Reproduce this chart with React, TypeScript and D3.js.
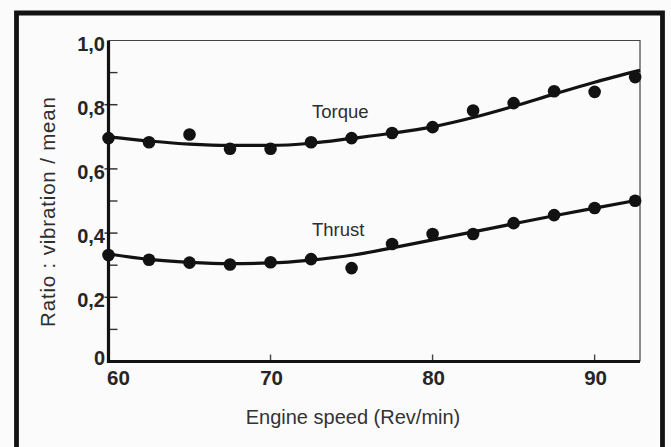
import React from "react";
import * as d3 from "d3";

// Measured points (engine speed in rev/min, ratio vibration / mean)
const speeds = [60, 62.5, 65, 67.5, 70, 72.5, 75, 77.5, 80, 82.5, 85, 87.5, 90, 92.5];
const torquePoints = [0.696, 0.683, 0.707, 0.663, 0.663, 0.683, 0.696, 0.712, 0.730, 0.782, 0.805, 0.842, 0.840, 0.886];
const thrustPoints = [0.332, 0.317, 0.308, 0.302, 0.309, 0.319, 0.291, 0.366, 0.397, 0.397, 0.431, 0.456, 0.478, 0.501];

// Smoothed trend curves
const fitSpeeds = [60, 62.5, 65, 67.5, 70, 72.5, 75, 77.5, 80, 82.5, 85, 87.5, 90, 92.8];
const torqueFit = [0.700, 0.687, 0.677, 0.673, 0.673, 0.680, 0.695, 0.711, 0.731, 0.760, 0.795, 0.833, 0.870, 0.907];
const thrustFit = [0.335, 0.318, 0.309, 0.305, 0.307, 0.316, 0.331, 0.354, 0.379, 0.404, 0.429, 0.454, 0.478, 0.504];

const xTicks = [60, 70, 80, 90];
const yMajorTicks = [0, 0.2, 0.4, 0.6, 0.8, 1.0];
const yMinorTicks = [0.1, 0.3, 0.5, 0.7, 0.9];

const seriesLabels = [
  { name: "Torque", x: 72.56, y: 0.76 },
  { name: "Thrust", x: 72.56, y: 0.391 },
];

const W = 671;
const H = 447;

const x = d3.scaleLinear().domain([60, 92.8]).range([108.5, 640]);
const y = d3.scaleLinear().domain([0, 1]).range([361.5, 40.5]);

const fmt = (v: number) => (v === 0 ? "0" : d3.format(".1f")(v).replace(".", ","));

export default function App() {
  const line = d3
    .line<[number, number]>()
    .x((d) => x(d[0]))
    .y((d) => y(d[1]))
    .curve(d3.curveMonotoneX);

  const torqueLine = line(fitSpeeds.map((s, i) => [s, torqueFit[i]]));
  const thrustLine = line(fitSpeeds.map((s, i) => [s, thrustFit[i]]));

  const ink = "#121212";
  const textInk = "#262626";
  const font = "'Liberation Sans', Arial, Helvetica, sans-serif";

  return (
    <svg
      width={W}
      height={H}
      viewBox={`0 0 ${W} ${H}`}
      style={{ position: "absolute", left: 0, top: 0, background: "#fbfbfb" }}
    >
      {/* outer frame, open at the bottom edge */}
      <path d={`M16.5,${H + 10} V13 H662.5 V${H + 10}`} fill="none" stroke={ink} strokeWidth={4.8} />

      {/* thin top and right plot border */}
      <path d={`M${x(60)},${y(1)} H${x(92.8)} V${y(0)}`} fill="none" stroke="#444" strokeWidth={1.2} />

      {/* y minor ticks */}
      {yMinorTicks.map((t) => (
        <line key={`mn${t}`} x1={x(60)} x2={x(60) + 9} y1={y(t)} y2={y(t)} stroke="#333" strokeWidth={1.4} />
      ))}
      {/* y major ticks */}
      {yMajorTicks.slice(1, 5).map((t) => (
        <line key={`mj${t}`} x1={x(60) - 4} x2={x(60) + 9} y1={y(t)} y2={y(t)} stroke="#333" strokeWidth={1.5} />
      ))}
      {/* x ticks (inside) */}
      {xTicks.slice(1).map((t) => (
        <line key={`xt${t}`} x1={x(t)} x2={x(t)} y1={y(0)} y2={y(0) - 7} stroke="#444" strokeWidth={1.4} />
      ))}

      {/* main axes */}
      <path d={`M${x(60)},${y(1)} V${y(0)} H${x(92.8)}`} fill="none" stroke={ink} strokeWidth={3.2} />

      {/* y tick labels */}
      {yMajorTicks.map((t) => (
        <text
          key={`yl${t}`}
          x={105}
          y={t === 0 ? y(0) + 3.5 : y(t) + 10}
          textAnchor="end"
          fontFamily={font}
          fontWeight="bold"
          fontSize={20}
          fill={textInk}
        >
          {fmt(t)}
        </text>
      ))}

      {/* x tick labels */}
      {xTicks.map((t) => (
        <text
          key={`xl${t}`}
          x={t === 60 ? x(t) + 10 : x(t) + 1}
          y={385}
          textAnchor="middle"
          fontFamily={font}
          fontWeight="bold"
          fontSize={20.5}
          fill={textInk}
        >
          {t}
        </text>
      ))}

      {/* axis titles */}
      <text x={353} y={424} textAnchor="middle" fontFamily={font} fontSize={20} fill="#333">
        Engine speed (Rev/min)
      </text>
      <text
        transform={`translate(55,212) rotate(-90)`}
        textAnchor="middle"
        fontFamily={font}
        fontSize={20.5}
        fill="#2e2e2e"
        textLength={230}
        lengthAdjust="spacing"
      >
        Ratio : vibration / mean
      </text>

      {/* trend curves */}
      <path d={torqueLine ?? ""} fill="none" stroke={ink} strokeWidth={3.2} />
      <path d={thrustLine ?? ""} fill="none" stroke={ink} strokeWidth={3.2} />

      {/* measured points */}
      {speeds.map((s, i) => (
        <circle key={`tq${s}`} cx={x(s)} cy={y(torquePoints[i])} r={6.3} fill={ink} />
      ))}
      {speeds.map((s, i) => (
        <circle key={`th${s}`} cx={x(s)} cy={y(thrustPoints[i])} r={6.3} fill={ink} />
      ))}

      {/* series labels */}
      {seriesLabels.map((l) => (
        <text key={l.name} x={x(l.x)} y={y(l.y)} fontFamily={font} fontSize={18.5} fill="#2e2e2e">
          {l.name}
        </text>
      ))}
    </svg>
  );
}
